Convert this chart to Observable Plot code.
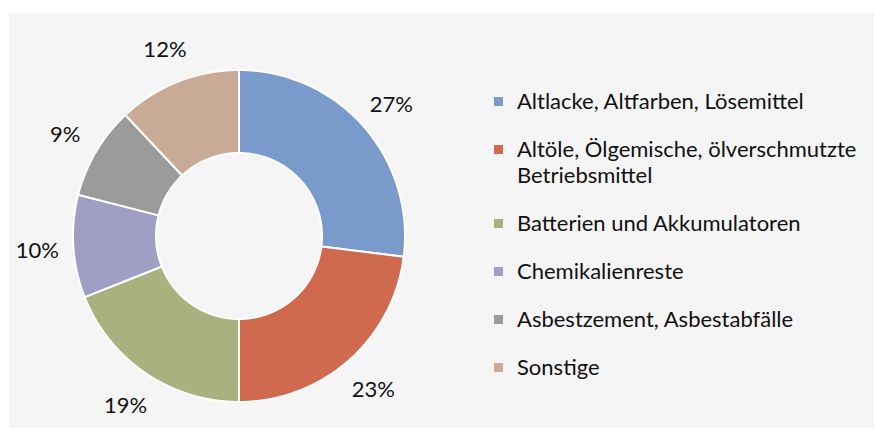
<!DOCTYPE html>
<html>
<head>
<meta charset="utf-8">
<script src="https://cdn.jsdelivr.net/npm/d3@7"></script>
<script src="https://cdn.jsdelivr.net/npm/@observablehq/plot@0.6"></script>
<style>
  html, body { margin: 0; padding: 0; background: #ffffff; }
  #wrap { position: relative; width: 877px; height: 431px; overflow: hidden; font-family: Lato, "Open Sans", sans-serif; }
  #panel { position: absolute; left: 9px; top: 13px; width: 865px; height: 415px; background: #f5f5f5; }
  #chart { position: absolute; left: 0; top: 0; }
  #legend { position: absolute; left: 494px; top: 88px; width: 380px; color: #111; font-size: 22px; }
  .item { display: flex; align-items: flex-start; margin-bottom: 22px; line-height: 26px; }
  .sw { width: 9px; height: 9px; flex: 0 0 9px; margin-top: 9px; margin-right: 14px; }
</style>
</head>
<body>
<div id="wrap">
  <div id="panel"></div>
  <div id="chart"></div>
  <div id="legend"></div>
</div>
<script>
const categories = [
  "Altlacke, Altfarben, Lösemittel",
  "Altöle, Ölgemische, ölverschmutzte Betriebsmittel",
  "Batterien und Akkumulatoren",
  "Chemikalienreste",
  "Asbestzement, Asbestabfälle",
  "Sonstige"
];
const shares = [27, 23, 19, 10, 9, 12];
const labels = ["27%", "23%", "19%", "10%", "9%", "12%"];
const colors = ["#7a9acb", "#d06a4e", "#a9b27f", "#a09ec5", "#9b9b9b", "#c9aa96"];

const innerRatio = 0.5;
const labelRadius = 1.22;
const total = d3.sum(shares);

// build arc band points (angle measured clockwise from 12 o'clock)
const bands = [];
const labelData = [];
let acc = 0;
shares.forEach((v, i) => {
  const a0 = acc / total * 2 * Math.PI;
  acc += v;
  const a1 = acc / total * 2 * Math.PI;
  const n = Math.max(2, Math.ceil((a1 - a0) / (Math.PI / 360)));
  for (let k = 0; k <= n; k++) {
    const a = a0 + (a1 - a0) * k / n;
    bands.push({
      cat: categories[i],
      x1: Math.sin(a), y1: Math.cos(a),
      x2: innerRatio * Math.sin(a), y2: innerRatio * Math.cos(a)
    });
  }
  const am = (a0 + a1) / 2;
  labelData.push({text: labels[i], x: labelRadius * Math.sin(am), y: labelRadius * Math.cos(am)});
});

const chart = Plot.plot({
  width: 877,
  height: 431,
  style: {background: "transparent", fontFamily: "Lato, 'Open Sans', sans-serif", overflow: "visible"},
  x: {domain: [-1, 1], range: [73, 405], axis: null},
  y: {domain: [-1, 1], range: [402, 70], axis: null},
  color: {domain: categories, range: colors},
  marks: [
    Plot.area(bands, {x1: "x1", y1: "y1", x2: "x2", y2: "y2", z: "cat", fill: "cat", stroke: "white", strokeWidth: 2, strokeLinejoin: "round"}),
    Plot.text(labelData, {x: "x", y: "y", text: "text", fontSize: 22, fill: "#111", dy: 2})
  ]
});
document.getElementById("chart").appendChild(chart);

const legend = document.getElementById("legend");
categories.forEach((c, i) => {
  const item = document.createElement("div");
  item.className = "item";
  const sw = document.createElement("div");
  sw.className = "sw";
  sw.style.background = colors[i];
  const t = document.createElement("div");
  t.textContent = c;
  item.appendChild(sw);
  item.appendChild(t);
  legend.appendChild(item);
});
</script>
</body>
</html>
